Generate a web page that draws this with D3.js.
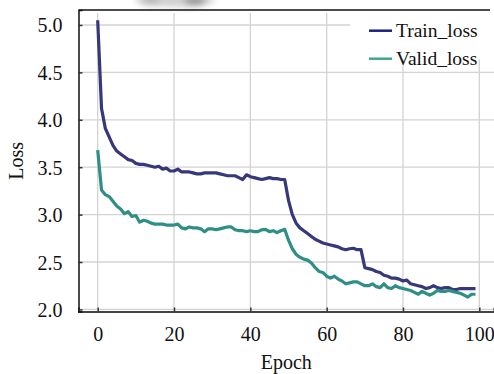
<!DOCTYPE html>
<html>
<head>
<meta charset="utf-8">
<script src="https://cdn.jsdelivr.net/npm/d3@7"></script>
<style>
  body { margin: 0; background: #fff; }
  svg { display: block; }
  svg text { font-family: "Liberation Serif", "DejaVu Serif", serif !important; fill: #111; }
</style>
</head>
<body>
<script>
const epochs = d3.range(0, 100);

const trainLoss = [
  5.05, 4.12, 3.91, 3.82, 3.73, 3.67, 3.64, 3.61, 3.58, 3.57,
  3.54, 3.53, 3.53, 3.52, 3.51, 3.50, 3.51, 3.48, 3.49, 3.46,
  3.46, 3.48, 3.45, 3.45, 3.45, 3.44, 3.43, 3.43, 3.44, 3.44,
  3.44, 3.44, 3.43, 3.42, 3.41, 3.41, 3.41, 3.39, 3.37, 3.42,
  3.40, 3.39, 3.38, 3.37, 3.38, 3.39, 3.38, 3.38, 3.37, 3.37,
  3.15, 3.00, 2.91, 2.86, 2.83, 2.80, 2.77, 2.74, 2.72, 2.70,
  2.69, 2.68, 2.67, 2.66, 2.64, 2.63, 2.64, 2.645, 2.63, 2.63,
  2.44, 2.43, 2.42, 2.40, 2.39, 2.36, 2.35, 2.33, 2.33, 2.32,
  2.30, 2.31, 2.27, 2.26, 2.25, 2.24, 2.22, 2.23, 2.25, 2.23,
  2.22, 2.23, 2.23, 2.21, 2.21, 2.22, 2.22, 2.22, 2.22, 2.22
];

const validLoss = [
  3.68, 3.26, 3.21, 3.19, 3.14, 3.09, 3.06, 3.01, 3.03, 2.98,
  2.99, 2.92, 2.94, 2.93, 2.91, 2.90, 2.90, 2.90, 2.89, 2.89,
  2.89, 2.90, 2.86, 2.85, 2.87, 2.86, 2.86, 2.85, 2.82, 2.85,
  2.85, 2.84, 2.85, 2.86, 2.87, 2.87, 2.84, 2.83, 2.83, 2.82,
  2.83, 2.82, 2.82, 2.84, 2.845, 2.82, 2.83, 2.81, 2.83, 2.845,
  2.73, 2.64, 2.58, 2.55, 2.53, 2.52, 2.49, 2.44, 2.40, 2.39,
  2.35, 2.33, 2.35, 2.32, 2.30, 2.27, 2.28, 2.29, 2.29, 2.27,
  2.25, 2.25, 2.27, 2.24, 2.23, 2.27, 2.23, 2.22, 2.25, 2.23,
  2.22, 2.21, 2.20, 2.18, 2.16, 2.19, 2.17, 2.15, 2.17, 2.20,
  2.19, 2.19, 2.20, 2.19, 2.18, 2.17, 2.15, 2.13, 2.16, 2.16
];

const xTicks = [0, 20, 40, 60, 80, 100];
const yTicks = [2.0, 2.5, 3.0, 3.5, 4.0, 4.5, 5.0];
const seriesNames = ["Train_loss", "Valid_loss"];

const w = 494;
const h = 374;
const plotLeft = 78.5, plotRight = 494, plotTop = 10, plotBottom = 311.5;
const serif = '"Liberation Serif", "DejaVu Serif", serif';

var svg = d3.select("body").append("svg")
  .attr("width", w)
  .attr("height", h)
  .attr("font-family", serif);

// blurry smudge at the top of the original picture
var defs = svg.append("defs");
defs.append("filter").attr("id", "blur")
  .attr("x", "-50%").attr("y", "-50%").attr("width", "200%").attr("height", "200%")
  .append("feGaussianBlur").attr("stdDeviation", 3);
var smudge = svg.append("g").attr("filter", "url(#blur)");
smudge.append("ellipse").attr("cx", 175).attr("cy", 0).attr("rx", 40).attr("ry", 7).style("fill", "#d0d0d0");
smudge.append("ellipse").attr("cx", 195).attr("cy", 1).attr("rx", 11).attr("ry", 5).style("fill", "#9a9a9a");
smudge.append("ellipse").attr("cx", 150).attr("cy", 1).attr("rx", 9).attr("ry", 4).style("fill", "#b5b5b5");

const x = d3.scaleLinear().domain([-5.03, 103.85]).range([plotLeft, plotRight]);
const y = d3.scaleLinear().domain([1.978, 5.158]).range([plotBottom, plotTop]);

// grid
svg.append("g").selectAll("line.vgrid").data(xTicks)
  .join("line")
  .attr("class", "vgrid")
  .attr("x1", d => x(d)).attr("x2", d => x(d))
  .attr("y1", plotTop + 3).attr("y2", plotBottom)
  .style("stroke", "#d3d3d3")
  .style("stroke-width", 1.3);
svg.append("g").selectAll("line.hgrid").data(yTicks)
  .join("line")
  .attr("class", "hgrid")
  .attr("x1", plotLeft).attr("x2", plotRight)
  .attr("y1", d => y(d)).attr("y2", d => y(d))
  .style("stroke", "#d3d3d3")
  .style("stroke-width", 1.3);

// lines
const line = d3.line().x((d, i) => x(epochs[i])).y(d => y(d));
svg.append("path").datum(trainLoss)
  .attr("d", line)
  .style("fill", "none")
  .style("stroke", "#36387b")
  .style("stroke-width", 3.2)
  .style("stroke-linejoin", "round");
svg.append("path").datum(validLoss)
  .attr("d", line)
  .style("fill", "none")
  .style("stroke", "#2f8f86")
  .style("stroke-width", 3.2)
  .style("stroke-linejoin", "round");

// axes
var xAxis = d3.axisBottom(x).tickValues(xTicks).tickSize(-4).tickPadding(17.5).tickFormat(d3.format("d"));
var gx = svg.append("g").attr("transform", "translate(0," + plotBottom + ")").call(xAxis)
  .attr("font-family", serif);
gx.select(".domain").style("stroke", "#444").style("stroke-width", 2);
gx.selectAll(".tick line").style("stroke", "#333").style("stroke-width", 1.5);
gx.selectAll(".tick text").style("font-size", "20px").attr("dy", "0.6em");

var yAxis = d3.axisLeft(y).tickValues(yTicks).tickSize(-4).tickPadding(16).tickFormat(d3.format(".1f"));
var gy = svg.append("g").attr("transform", "translate(" + plotLeft + ",0)").call(yAxis)
  .attr("font-family", serif);
gy.select(".domain").style("stroke", "#111").style("stroke-width", 1.5);
gy.selectAll(".tick line").style("stroke", "#333").style("stroke-width", 1.5);
gy.selectAll(".tick text").style("font-size", "20px").attr("dy", "0.35em");

// top border
svg.append("line")
  .attr("x1", plotLeft).attr("x2", plotRight - 4)
  .attr("y1", plotTop).attr("y2", plotTop)
  .style("stroke", "#111").style("stroke-width", 1.5);

// legend
var legend = svg.append("g");
legend.append("rect")
  .attr("x", 350).attr("y", plotTop + 1.5)
  .attr("width", 144).attr("height", 48)
  .style("fill", "#fff");
const legendColors = ["#1c2084", "#3aa98a"];
seriesNames.forEach(function (name, i) {
  var ly = 30.7 + i * 28;
  legend.append("line")
    .attr("x1", 369).attr("x2", 392)
    .attr("y1", ly).attr("y2", ly)
    .style("stroke", legendColors[i])
    .style("stroke-width", 2.5);
  legend.append("text")
    .attr("x", 396).attr("y", ly + 6.5)
    .style("font-size", "19.5px")
    .text(name);
});

// axis titles
svg.append("text")
  .attr("x", (plotLeft + plotRight) / 2).attr("y", 369)
  .attr("text-anchor", "middle")
  .style("font-size", "20px")
  .text("Epoch");
svg.append("text")
  .attr("transform", "translate(23," + ((plotTop + plotBottom) / 2) + ") rotate(-90)")
  .attr("text-anchor", "middle")
  .style("font-size", "20px")
  .text("Loss");
</script>
</body>
</html>
